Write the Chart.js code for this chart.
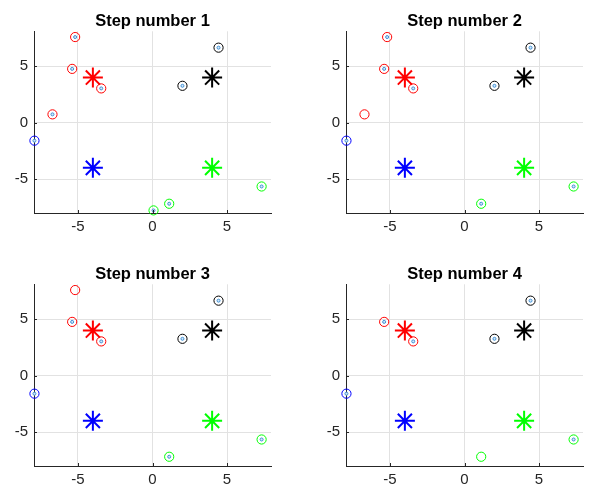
<!DOCTYPE html>
<html>
<head>
<meta charset="utf-8">
<script src="https://cdn.jsdelivr.net/npm/chart.js@4"></script>
<style>
  body { margin: 0; background: #fff; }
  #wrap { position: relative; width: 589px; height: 490px; overflow: hidden; }
  #wrap canvas { position: absolute; }
</style>
</head>
<body>
<div id="wrap"></div>
<script>
'use strict';

// data points (x, y) and the cluster each one belongs to
var pointX = [-5.19, -5.39, -3.44, -6.71, 4.43, 2.01, -7.92, 0.07, 1.12, 7.32];
var pointY = [7.59, 4.77, 3.04, 0.74, 6.65, 3.27, -1.59, -7.77, -7.18, -5.65];
var pointCluster = [0, 0, 0, 0, 1, 1, 2, 3, 3, 3];

// cluster centres (asterisks)
var centerX = [-4, 4, -4, 4];
var centerY = [4, 4, -4, -4];

var stepTitles = ['Step number 1', 'Step number 2', 'Step number 3', 'Step number 4'];
// points whose circle is gone at each step
var removedPoints = [[], [7], [7, 3], [7, 3, 0]];
// points that still have a circle but lost their dot
var emptyPoints = [[], [3], [0], [8]];

var xTicks = [-5, 0, 5];
var yTicks = [-5, 0, 5];

// styles
var clusterColors = ['#ff0000', '#000000', '#0000ff', '#00ff00'];
var dotColor = '#3d8fd6';
var axisColor = '#262626';
var fontFamily = '"Liberation Sans", Arial, Helvetica, sans-serif';

var panelPos = [[0, 0], [312, 0], [0, 253], [312, 253]];
var panelW = 290;
var panelH = 237;

// small inward tick marks, matlab style
var innerTicks = {
  id: 'innerTicks',
  afterDraw: function (chart) {
    var ctx = chart.ctx, a = chart.chartArea;
    var sx = chart.scales.x, sy = chart.scales.y;
    ctx.save();
    ctx.strokeStyle = axisColor;
    ctx.lineWidth = 1;
    ctx.beginPath();
    sx.ticks.forEach(function (t) {
      var px = Math.round(sx.getPixelForValue(t.value)) + 0.5;
      ctx.moveTo(px, a.bottom);
      ctx.lineTo(px, a.bottom - 3);
    });
    sy.ticks.forEach(function (t) {
      var py = Math.round(sy.getPixelForValue(t.value)) + 0.5;
      ctx.moveTo(a.left, py);
      ctx.lineTo(a.left + 3, py);
    });
    ctx.stroke();
    ctx.restore();
  }
};

function makeChart(step) {
  var cv = document.createElement('canvas');
  cv.width = panelW;
  cv.height = panelH;
  cv.style.left = panelPos[step][0] + 'px';
  cv.style.top = panelPos[step][1] + 'px';
  cv.style.width = panelW + 'px';
  cv.style.height = panelH + 'px';
  document.getElementById('wrap').appendChild(cv);

  var datasets = [];

  // circles, one dataset per cluster
  for (var c = 0; c < clusterColors.length; c++) {
    var circ = [];
    for (var i = 0; i < pointX.length; i++) {
      if (pointCluster[i] !== c) continue;
      if (removedPoints[step].indexOf(i) >= 0) continue;
      circ.push({ x: pointX[i], y: pointY[i] });
    }
    datasets.push({
      data: circ,
      clip: false,
      pointStyle: 'circle',
      pointRadius: 4.6,
      pointBorderWidth: 1,
      pointBorderColor: clusterColors[c],
      pointBackgroundColor: 'rgba(0,0,0,0)',
      order: 3
    });
  }

  // small dots for points still present
  var dots = [];
  for (var j = 0; j < pointX.length; j++) {
    if (removedPoints[step].indexOf(j) >= 0) continue;
    if (emptyPoints[step].indexOf(j) >= 0) continue;
    dots.push({ x: pointX[j], y: pointY[j] });
  }
  datasets.push({
    data: dots,
    clip: false,
    pointStyle: 'circle',
    pointRadius: 1.5,
    pointBorderWidth: 1,
    pointBorderColor: dotColor,
    pointBackgroundColor: '#d6e8f7',
    order: 2
  });

  // centres
  for (var k = 0; k < centerX.length; k++) {
    datasets.push({
      data: [{ x: centerX[k], y: centerY[k] }],
      clip: false,
      pointStyle: 'star',
      pointRadius: 10,
      pointBorderWidth: 2,
      pointBorderColor: clusterColors[k],
      pointBackgroundColor: clusterColors[k],
      order: 1
    });
  }

  return new Chart(cv.getContext('2d'), {
    type: 'scatter',
    data: { datasets: datasets },
    plugins: [innerTicks],
    options: {
      responsive: false,
      animation: false,
      devicePixelRatio: 1,
      layout: { padding: { left: 0, right: 19, top: 0, bottom: 0 } },
      plugins: {
        legend: { display: false },
        tooltip: { enabled: false },
        title: {
          display: true,
          text: stepTitles[step],
          fullSize: false,
          color: '#000',
          font: { family: fontFamily, size: 16.5, weight: 'bold', lineHeight: 1.2 },
          padding: { top: 11.5, bottom: 0 }
        }
      },
      scales: {
        x: {
          type: 'linear',
          min: -7.95,
          max: 7.95,
          afterBuildTicks: function (s) { s.ticks = xTicks.map(function (v) { return { value: v }; }); },
          afterFit: function (s) { s.height = 24; },
          grid: { color: '#e2e2e2', lineWidth: 1, drawTicks: false },
          border: { display: true, color: axisColor, width: 1 },
          ticks: { color: axisColor, padding: 5, font: { family: fontFamily, size: 15 }, maxRotation: 0 }
        },
        y: {
          type: 'linear',
          min: -8,
          max: 8.1,
          afterBuildTicks: function (s) { s.ticks = yTicks.map(function (v) { return { value: v }; }); },
          afterFit: function (s) { s.width = 34; },
          grid: { color: '#e2e2e2', lineWidth: 1, drawTicks: false },
          border: { display: true, color: axisColor, width: 1 },
          ticks: { color: axisColor, padding: 6, font: { family: fontFamily, size: 15 } }
        }
      }
    }
  });
}

for (var s = 0; s < stepTitles.length; s++) {
  makeChart(s);
}
</script>
</body>
</html>
